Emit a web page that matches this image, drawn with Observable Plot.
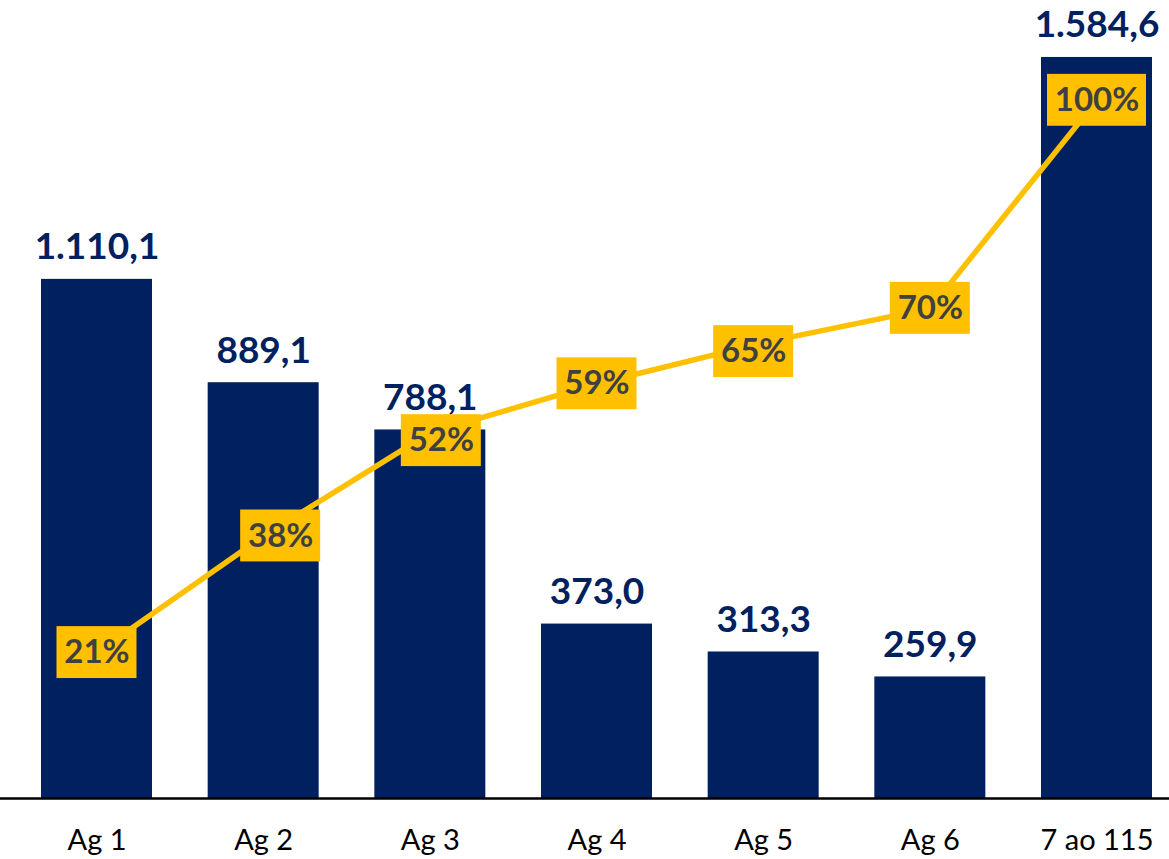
<!DOCTYPE html>
<html>
<head>
<meta charset="utf-8">
<script src="https://cdn.jsdelivr.net/npm/d3@7"></script>
<script src="https://cdn.jsdelivr.net/npm/@observablehq/plot@0.6"></script>
<style>
  html, body { margin: 0; padding: 0; background: #ffffff; }
  #chart svg { display: block; }
</style>
</head>
<body>
<div id="chart"></div>
<script>
// Categories (x axis)
const categories = ["Ag 1", "Ag 2", "Ag 3", "Ag 4", "Ag 5", "Ag 6", "7 ao 115"];
// Bar values
const values = [1110.1, 889.1, 788.1, 373.0, 313.3, 259.9, 1584.6];
// Cumulative share (%) — line series
const cumulative = [20.9, 37.6, 52.4, 59.4, 65.3, 70.2, 100];

const navy = "#002060";
const gold = "#FFC000";

const ptBR = d3.formatLocale({decimal: ",", thousands: ".", grouping: [3], currency: ["R$", ""]});
const fmt = ptBR.format(",.1f");

// Map the % series onto the value axis (secondary-axis equivalent)
const yMax = 1700;
const pctToValue = 1493 / 100;      // 100% drawn at the height of ~1493 units
const boxHalf = 55.5;               // half height of the label box in value units

const data = categories.map((c, i) => ({
  cat: c,
  value: values[i],
  pct: cumulative[i],
  pv: cumulative[i] * pctToValue,
  label: fmt(values[i]),
  pctLabel: Math.round(cumulative[i]) + "%"
}));

const font = "Lato, 'Open Sans', sans-serif";

// Manual nudges of the % data labels (as placed in the original chart), in pixels
const nudge = {"Ag 2": [17, 0], "Ag 3": [11, 8], "Ag 5": [-10, 9]};

function pctLabelMarks() {
  const groups = d3.groups(data, d => (nudge[d.cat] || [0, 0]).join(",") + "|" + (d.pctLabel.length > 3 ? "w" : "n"));
  const out = [];
  for (const [key, rows] of groups) {
    const [dx, dy] = (nudge[rows[0].cat] || [0, 0]);
    const inset = rows[0].pctLabel.length > 3 ? 6 : 15.5;
    out.push(Plot.barY(rows, {x: "cat", y1: d => d.pv - boxHalf, y2: d => d.pv + boxHalf,
      fill: gold, insetLeft: inset, insetRight: inset, dx, dy}));
    out.push(Plot.text(rows, {x: "cat", y: "pv", text: "pctLabel", lineAnchor: "middle", dx, dy,
      fontSize: 33, fontWeight: "bold", fill: "#404040", fontFamily: font}));
  }
  return out;
}

const chart = Plot.plot({
  width: 1169,
  height: 859,
  marginLeft: 0,
  marginRight: 0,
  marginTop: 3,
  marginBottom: 61,
  style: {fontFamily: font, background: "transparent"},
  x: {domain: categories, range: [41, 1152], paddingInner: 0.334, paddingOuter: 0, round: false, label: null},
  y: {domain: [0, yMax], axis: null},
  marks: [
    Plot.barY(data, {x: "cat", y: "value", fill: navy}),
    Plot.ruleY([0], {stroke: "#000", strokeWidth: 2.5}),
    Plot.axisX({tickSize: 0, tickPadding: 31, fontSize: 29, fill: "#000", fontFamily: font, label: null}),
    Plot.text(data, {x: "cat", y: "value", text: "label", dy: -20, lineAnchor: "bottom",
      fontSize: 37, fontWeight: "bold", fill: navy, fontFamily: font}),
    Plot.line(data, {x: "cat", y: "pv", stroke: gold, strokeWidth: 5.5}),
    ...pctLabelMarks()
  ]
});

document.getElementById("chart").appendChild(chart);
</script>
</body>
</html>
